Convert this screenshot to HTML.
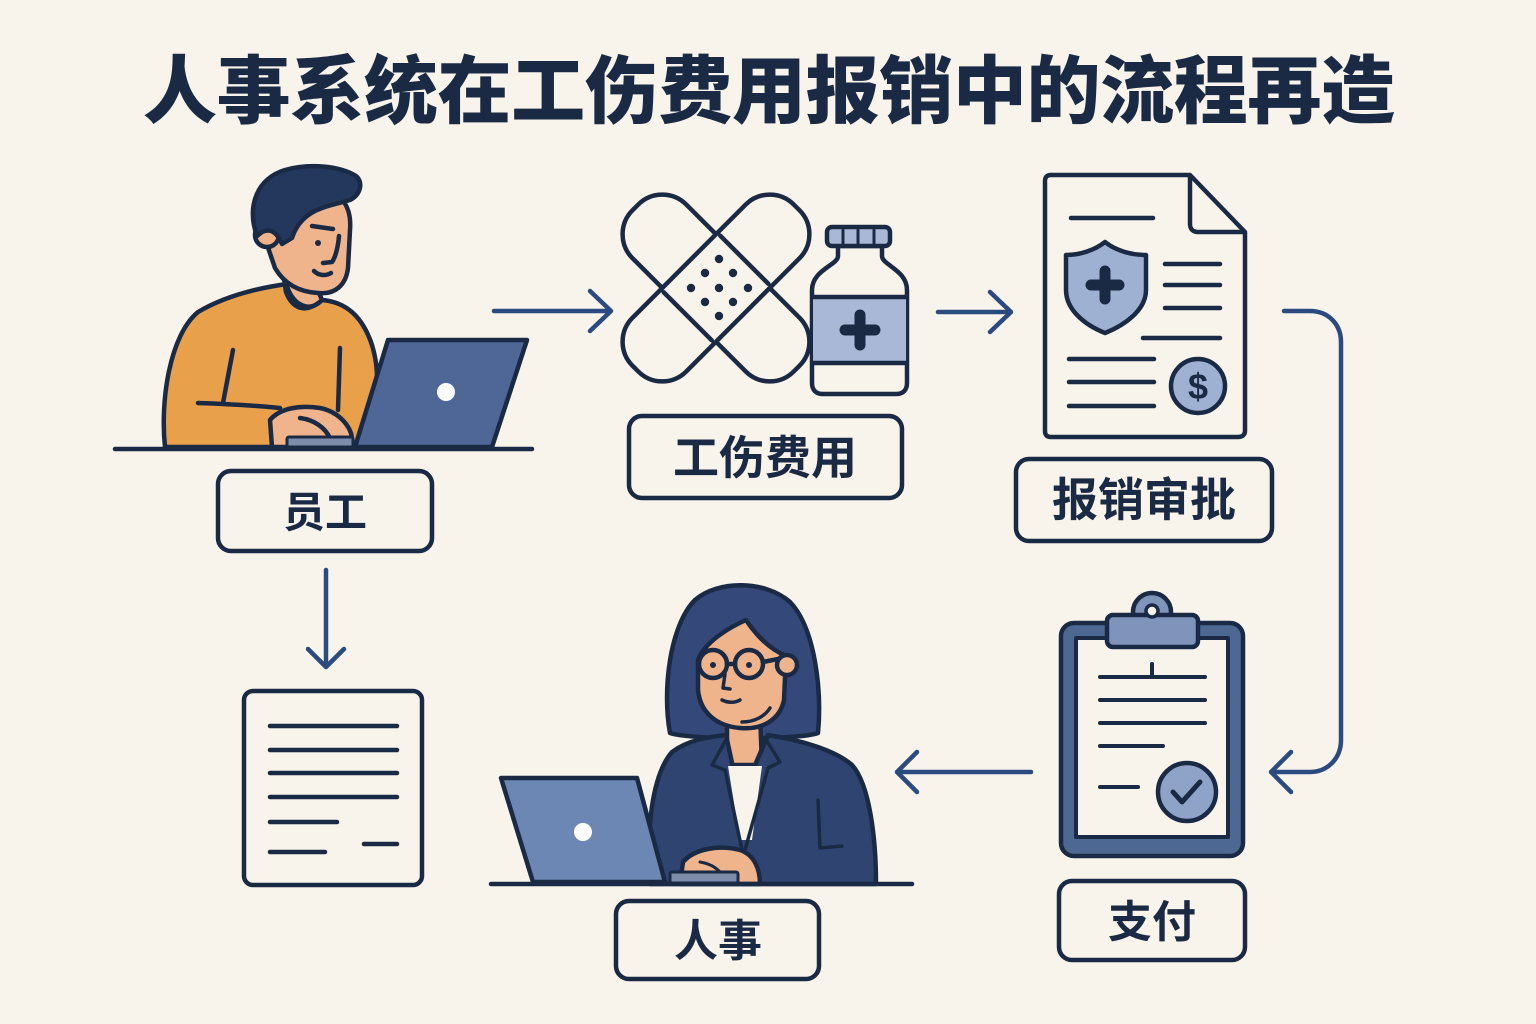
<!DOCTYPE html>
<html><head><meta charset="utf-8"><style>
html,body{margin:0;padding:0;background:#f8f4ec;}
svg{display:block;}
.t{font-family:"Liberation Sans","Noto Sans CJK SC",sans-serif;fill:#1b2a44;}
</style></head><body>
<svg width="1536" height="1024" viewBox="0 0 1536 1024" xmlns="http://www.w3.org/2000/svg">
<rect width="1536" height="1024" fill="#f8f4ec"/>
<text class="t" x="769" y="117" text-anchor="middle" font-size="74" font-weight="900" textLength="1252" lengthAdjust="spacing">人事系统在工伤费用报销中的流程再造</text>

<g stroke="#1b2a44" stroke-width="4.5" stroke-linecap="round" stroke-linejoin="round">
<!-- ===== Man ===== -->
<path d="M165,447 C160,400 170,335 198,312 C225,296 258,288 287,284 L322,300 C345,302 362,315 372,345 C378,365 378,380 375,400 L360,447 Z" fill="#e9a04a"/>
<path d="M283,272 L286,292 C292,308 305,315 322,300 L316,286 Z" fill="#f0b48c"/>
<path d="M287,286 C293,306 310,313 322,300" fill="none"/>
<path d="M262,230 C262,200 285,185 315,188 C340,190 352,205 350,230 L348,268 C346,285 335,295 318,293 C300,292 285,285 275,268 Z" fill="#f0b48c"/>
<circle cx="267" cy="235" r="12" fill="#f0b48c"/>
<path d="M257,236 C246,205 258,178 285,170 C310,163 340,166 356,176 C364,183 360,195 350,200 C340,203 330,205 322,208 C308,213 297,222 292,238 L282,244 C277,232 270,228 262,232 Z" fill="#24385d"/>
<path d="M312,226 L333,229" fill="none"/>
<circle cx="318" cy="243" r="3" fill="#1b2a44" stroke="none"/>
<path d="M339,236 C338,248 335,258 332,262 L323,263" fill="none"/>
<path d="M314,271 C319,276 326,276 331,273" fill="none"/>
<path d="M233,350 L223,403" fill="none"/>
<path d="M340,348 L338,410" fill="none"/>
<path d="M198,403 C230,404 260,406 280,408" fill="none"/>
<path d="M272,447 L270,420 C280,408 300,405 320,408 C340,412 352,428 352,440 L352,447 Z" fill="#f0b48c"/>
<path d="M300,418 C315,420 325,428 330,438" fill="none"/>
<rect x="287" y="437" width="66" height="10" rx="2" fill="#7d8cab" stroke-width="3"/>
<path d="M388,340 L527,340 L492,447 L355,447 Z" fill="#4f6796"/>
<circle cx="446" cy="392" r="9" fill="#fff" stroke="none"/>
<line x1="115" y1="449" x2="532" y2="449"/>
<rect x="218" y="471" width="214" height="80" rx="13" fill="none"/>

<!-- ===== Bandage ===== -->
<g transform="translate(716,288) rotate(45)">
<rect x="-114" y="-38" width="228" height="76" rx="34" fill="#f8f4ec"/>
</g>
<g transform="translate(716,288) rotate(-45)">
<rect x="-114" y="-38" width="228" height="76" rx="34" fill="#f8f4ec"/>
<line x1="-40" y1="-34" x2="-40" y2="34"/>
<line x1="40" y1="-34" x2="40" y2="34"/>
</g>
<g fill="#1b2a44" stroke="none">
<circle cx="719" cy="259" r="4.2"/><circle cx="705" cy="273" r="4.2"/><circle cx="733" cy="273" r="4.2"/>
<circle cx="691" cy="288" r="4.2"/><circle cx="719" cy="288" r="4.2"/><circle cx="748" cy="288" r="4.2"/>
<circle cx="705" cy="302" r="4.2"/><circle cx="733" cy="302" r="4.2"/><circle cx="719" cy="316" r="4.2"/>
</g>
<!-- Bottle -->
<path d="M838,246 L838,256 C838,265 812,270 812,290 L812,383 C812,390 816,394 823,394 L896,394 C903,394 907,390 907,383 L907,290 C907,270 882,265 882,256 L882,246 Z" fill="#f8f4ec"/>
<rect x="813" y="297" width="93" height="66" fill="#a9b8d6" stroke="none"/>
<line x1="813" y1="297" x2="906" y2="297"/>
<line x1="813" y1="363" x2="906" y2="363"/>
<rect x="827" y="227" width="63" height="19" rx="5" fill="#a9b8d6"/>
<line x1="843" y1="230" x2="843" y2="243" stroke-width="3"/>
<line x1="858" y1="230" x2="858" y2="243" stroke-width="3"/>
<line x1="874" y1="230" x2="874" y2="243" stroke-width="3"/>
<path d="M860,315 L860,345 M845,330 L875,330" stroke-width="11" stroke-linecap="round"/>
<rect x="629" y="416" width="273" height="82" rx="13" fill="none"/>

<!-- ===== Document ===== -->
<path d="M1051,175 L1190,175 L1245,232 L1245,431 C1245,435 1242,437 1238,437 L1051,437 C1047,437 1045,435 1045,431 L1045,181 C1045,177 1047,175 1051,175 Z" fill="#f8f4ec"/>
<path d="M1190,176 L1190,224 C1190,229 1193,232 1198,232 L1244,232" fill="none"/>
<line x1="1071" y1="218" x2="1153" y2="218"/>
<path d="M1105,242 C1095,250 1080,255 1066,255 L1066,290 C1066,310 1085,325 1105,333 C1125,325 1146,310 1146,290 L1146,255 C1130,255 1115,250 1105,242 Z" fill="#9fb1d3"/>
<path d="M1105,271 L1105,299 M1091,285 L1119,285" stroke-width="11"/>
<line x1="1165" y1="264" x2="1220" y2="264"/>
<line x1="1165" y1="285" x2="1220" y2="285"/>
<line x1="1165" y1="308" x2="1220" y2="308"/>
<line x1="1143" y1="338" x2="1220" y2="338"/>
<line x1="1069" y1="359" x2="1154" y2="359"/>
<line x1="1069" y1="382" x2="1154" y2="382"/>
<line x1="1069" y1="406" x2="1154" y2="406"/>
<circle cx="1198" cy="386" r="27" fill="#9fb1d3"/>
<text class="t" x="1198" y="399" text-anchor="middle" font-size="36" font-weight="700" stroke="none">$</text>
<rect x="1016" y="459" width="256" height="82" rx="13" fill="none"/>

<!-- ===== Clipboard ===== -->
<rect x="1061" y="623" width="182" height="233" rx="13" fill="#4e6894"/>
<rect x="1076" y="638" width="152" height="199" fill="#f8f4ec" stroke-width="4"/>
<circle cx="1152" cy="612" r="19" fill="#7f93bb"/>
<rect x="1107" y="615" width="91" height="32" rx="6" fill="#7f93bb"/>
<circle cx="1152" cy="611" r="6" fill="#f8f4ec" stroke-width="3.5"/>
<line x1="1100" y1="677" x2="1205" y2="677" stroke-width="4"/>
<line x1="1152" y1="664" x2="1152" y2="677" stroke-width="4"/>
<line x1="1100" y1="700" x2="1205" y2="700" stroke-width="4"/>
<line x1="1100" y1="723" x2="1205" y2="723" stroke-width="4"/>
<line x1="1100" y1="746" x2="1163" y2="746" stroke-width="4"/>
<line x1="1100" y1="787" x2="1138" y2="787" stroke-width="4"/>
<circle cx="1187" cy="792" r="29" fill="#8fa3c8"/>
<path d="M1173,792 L1182,802 L1200,782" fill="none" stroke-width="5"/>
<rect x="1059" y="881" width="186" height="79" rx="13" fill="none"/>

<!-- ===== Small doc ===== -->
<rect x="244" y="691" width="178" height="194" rx="9" fill="#f8f4ec"/>
<g stroke-width="4.5">
<line x1="270" y1="726" x2="397" y2="726"/>
<line x1="270" y1="750" x2="397" y2="750"/>
<line x1="270" y1="773" x2="397" y2="773"/>
<line x1="270" y1="797" x2="397" y2="797"/>
<line x1="270" y1="822" x2="337" y2="822"/>
<line x1="270" y1="852" x2="325" y2="852"/>
<line x1="364" y1="844" x2="397" y2="844"/>
</g>

<!-- ===== Woman ===== -->
<path d="M670,733 C662,690 670,625 695,600 C718,580 765,580 790,602 C815,628 822,690 818,733 C800,740 690,740 670,733 Z" fill="#34497a"/>
<path d="M727,712 L727,765 L762,765 L760,712 Z" fill="#f0b48c"/>
<path d="M698,660 C705,642 728,628 746,620 C758,638 772,650 786,656 L784,700 C780,720 762,730 740,728 C716,726 700,712 698,690 Z" fill="#f0b48c"/>
<circle cx="787" cy="665" r="10" fill="#f0b48c"/>
<circle cx="713" cy="664" r="14" fill="none"/>
<circle cx="749" cy="664" r="14" fill="none"/>
<line x1="727" y1="664" x2="735" y2="664"/>
<line x1="763" y1="662" x2="778" y2="659"/>
<circle cx="713" cy="665" r="3" fill="#1b2a44" stroke="none"/>
<circle cx="749" cy="665" r="3" fill="#1b2a44" stroke="none"/>
<path d="M725,674 L723,688 L730,689" fill="none" stroke-width="3.5"/>
<path d="M722,700 C728,703 735,703 740,700" fill="none" stroke-width="3.5"/>
<path d="M742,722 C755,722 765,716 770,708" fill="none" stroke-width="3.5"/>
<path d="M650,884 C646,830 652,775 672,752 C688,740 708,737 726,735 L740,800 L768,735 C800,740 835,750 852,765 C870,785 876,840 876,884 Z" fill="#2f4470"/>
<path d="M728,766 L762,766 L752,840 L740,840 Z" fill="#f8f4ec" stroke="none"/>
<path d="M727,738 L712,765 L725,770 L742,850" fill="none" stroke-width="3.5"/>
<path d="M765,738 L780,762 L768,768 L745,850" fill="none" stroke-width="3.5"/>
<path d="M818,800 L820,848 L842,846" fill="none" stroke-width="3.5"/>
<path d="M680,884 L683,862 C695,848 720,845 740,850 C755,855 760,870 760,884 Z" fill="#f0b48c"/>
<path d="M700,862 C712,864 720,870 724,878" fill="none" stroke-width="3"/>
<rect x="670" y="872" width="68" height="11" rx="2" fill="#7d8cab" stroke-width="3"/>
<path d="M501,778 L637,778 L665,882 L533,882 Z" fill="#6d87b5"/>
<circle cx="583" cy="832" r="9" fill="#fff" stroke="none"/>
<line x1="491" y1="884" x2="912" y2="884"/>
<rect x="616" y="901" width="203" height="78" rx="13" fill="none"/>
</g>

<!-- ===== Connectors ===== -->
<g stroke="#2b4a80" stroke-width="4.5" stroke-linecap="round" stroke-linejoin="round" fill="none">
<line x1="494" y1="311" x2="610" y2="311"/>
<path d="M590,291 L611,311 L590,331"/>
<line x1="938" y1="312" x2="1010" y2="312"/>
<path d="M990,292 L1011,312 L990,332"/>
<path d="M1284,311 L1310,311 C1328,311 1341,324 1341,342 L1341,740 C1341,758 1328,772 1310,772 L1272,772"/>
<path d="M1291,752 L1271,772 L1291,792"/>
<line x1="1031" y1="772" x2="898" y2="772"/>
<path d="M917,752 L897,772 L917,792"/>
<line x1="326" y1="570" x2="326" y2="666"/>
<path d="M308,649 L326,667 L344,649"/>
</g>

<!-- ===== Labels ===== -->
<text class="t" x="325" y="527" text-anchor="middle" font-size="42" font-weight="600">员工</text>
<text class="t" x="765" y="474" text-anchor="middle" font-size="46" font-weight="700">工伤费用</text>
<text class="t" x="1144" y="516" text-anchor="middle" font-size="46" font-weight="700">报销审批</text>
<text class="t" x="1152" y="937" text-anchor="middle" font-size="44" font-weight="700">支付</text>
<text class="t" x="718" y="956" text-anchor="middle" font-size="44" font-weight="600">人事</text>
</svg>
</body></html>
